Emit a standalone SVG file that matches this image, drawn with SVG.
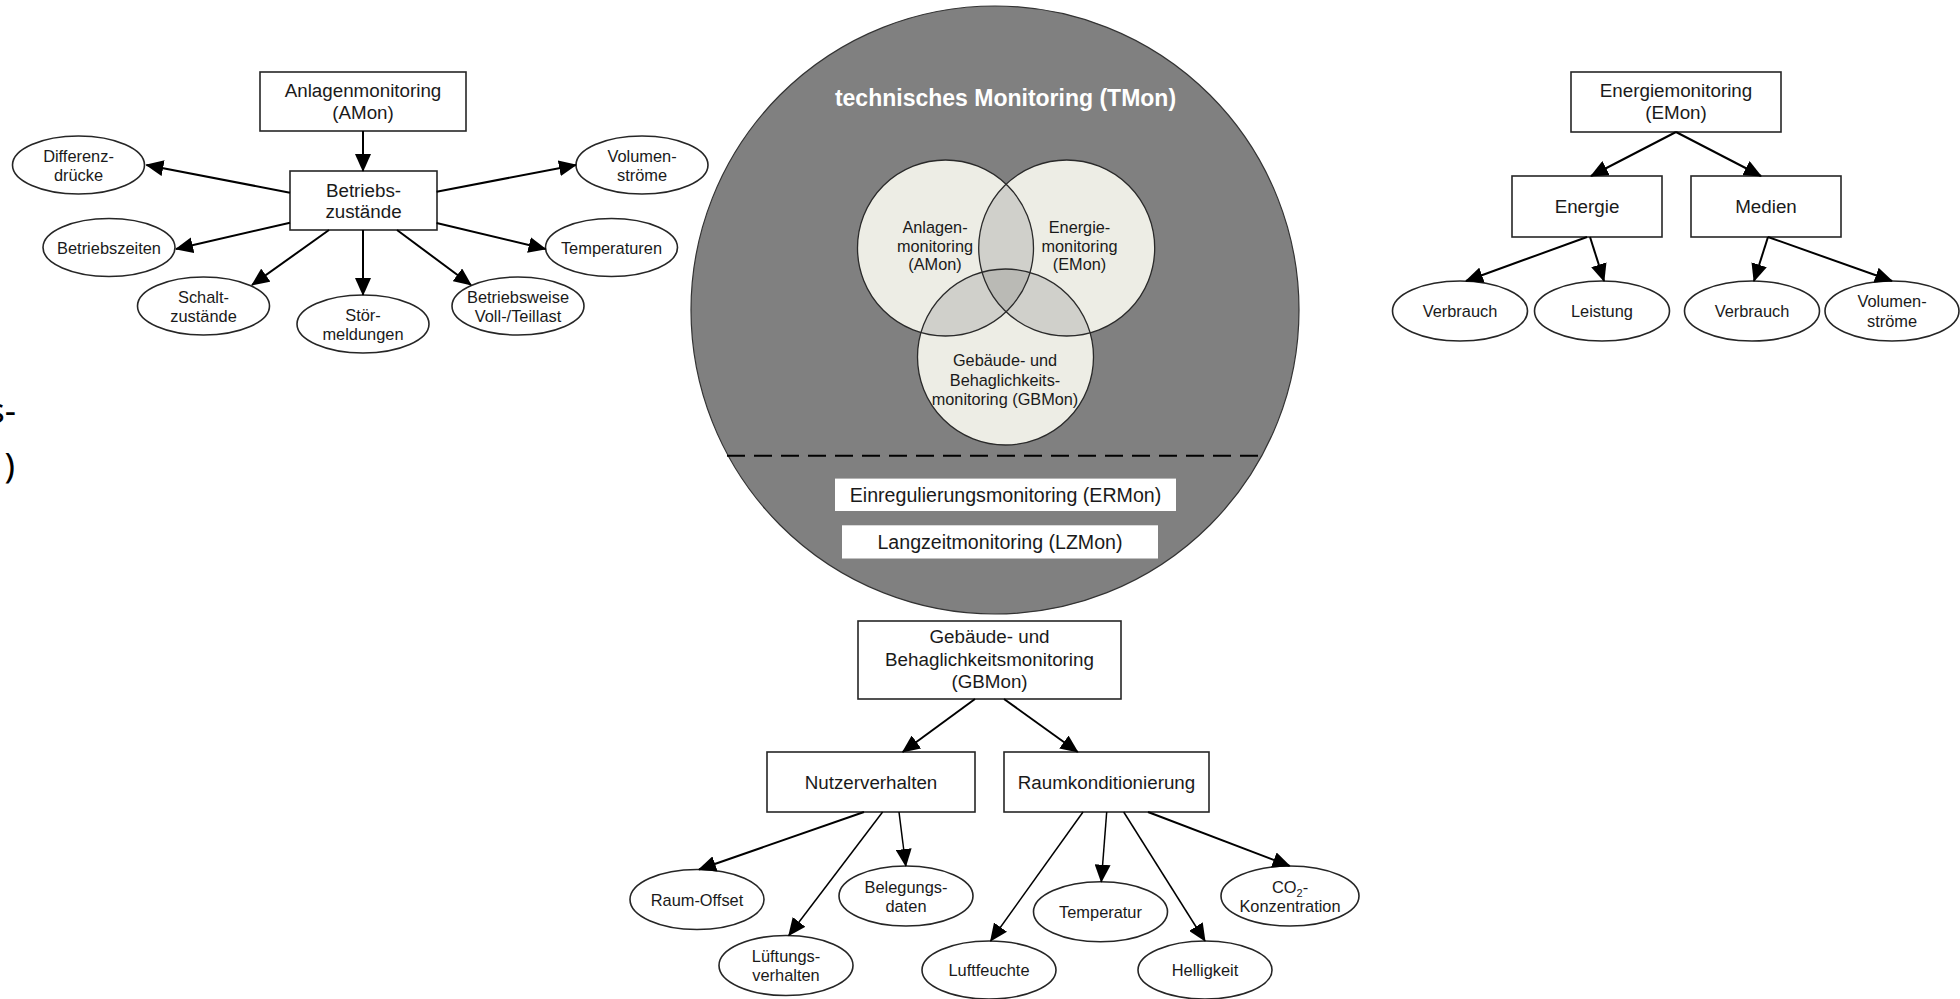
<svg xmlns="http://www.w3.org/2000/svg" width="1960" height="999" viewBox="0 0 1960 999">
<style>
text{font-family:"Liberation Sans",Arial,sans-serif;fill:#1a1a1a;text-anchor:middle}
.bx{fill:#fff;stroke:#262626;stroke-width:1.6}
.el{fill:#fff;stroke:#262626;stroke-width:1.6}
.bt{font-size:18.8px}
.et{font-size:16.4px}
.vt{font-size:16.3px}
.e{stroke:#000;stroke-width:2;fill:none;marker-end:url(#arr)}
.thin{stroke-width:1.5}
.venn{stroke:#2a2a2a;stroke-width:1.3;fill:none}
</style>
<defs>
<marker id="arr" viewBox="0 0 18 16" markerWidth="18" markerHeight="16" refX="17" refY="8" orient="auto" markerUnits="userSpaceOnUse">
<path d="M0,0 L18,8 L0,16 z" fill="#000"/>
</marker>
<clipPath id="cA"><circle cx="945.5" cy="248" r="88"/></clipPath>
<clipPath id="cE"><circle cx="1066.7" cy="248" r="88"/></clipPath>
<clipPath id="cG"><circle cx="1005.5" cy="357" r="88"/></clipPath>
</defs>
<rect width="1960" height="999" fill="#fff"/>

<!-- cut-off text at left edge -->
<g id="leftEdgeText">
<text x="16" y="423" style="font-family:'Noto Sans','Open Sans',sans-serif;font-size:35px;text-anchor:end;fill:#000">s-</text>
<text x="15" y="478" style="font-family:'Noto Sans','Open Sans',sans-serif;font-size:35px;text-anchor:end;fill:#000">)</text>
</g>

<!-- technisches Monitoring -->
<g id="tmon">
<circle cx="995" cy="310" r="304" fill="#808080" stroke="#333" stroke-width="1.2"/>
<text x="1005.5" y="106" style="font-size:23px;font-weight:bold;fill:#fff">technisches Monitoring (TMon)</text>
</g>
<g id="venn">
<circle cx="945.5" cy="248" r="88" fill="#EDEDE5"/>
<circle cx="1066.7" cy="248" r="88" fill="#EDEDE5"/>
<circle cx="1005.5" cy="357" r="88" fill="#EDEDE5"/>
<g clip-path="url(#cA)"><circle cx="1066.7" cy="248" r="88" fill="#D0D0CB"/><circle cx="1005.5" cy="357" r="88" fill="#D0D0CB"/></g>
<g clip-path="url(#cE)"><circle cx="1005.5" cy="357" r="88" fill="#D0D0CB"/></g>
<g clip-path="url(#cA)"><g clip-path="url(#cE)"><circle cx="1005.5" cy="357" r="88" fill="#BABAB5"/></g></g>
<circle class="venn" cx="945.5" cy="248" r="88"/>
<circle class="venn" cx="1066.7" cy="248" r="88"/>
<circle class="venn" cx="1005.5" cy="357" r="88"/>
</g>
<g id="venn_amon">
<text class="vt" x="935" y="233">Anlagen-</text>
<text class="vt" x="935" y="252">monitoring</text>
<text class="vt" x="935" y="270">(AMon)</text>
</g>
<g id="venn_emon">
<text class="vt" x="1079.5" y="233">Energie-</text>
<text class="vt" x="1079.5" y="252">monitoring</text>
<text class="vt" x="1079.5" y="270">(EMon)</text>
</g>
<g id="venn_gbmon">
<text class="vt" x="1005" y="366">Gebäude- und</text>
<text class="vt" x="1005" y="385.5">Behaglichkeits-</text>
<text class="vt" x="1005" y="405">monitoring (GBMon)</text>
</g>
<line x1="727" y1="455.7" x2="1262" y2="455.7" stroke="#000" stroke-width="2" stroke-dasharray="18 9"/>
<g id="ermon">
<rect x="835" y="478.6" width="341" height="32.4" fill="#fff"/>
<text x="1005.5" y="501.5" style="font-size:19.6px">Einregulierungsmonitoring (ERMon)</text>
</g>
<g id="lzmon">
<rect x="842" y="525.3" width="316" height="33.2" fill="#fff"/>
<text x="1000" y="548.8" style="font-size:19.6px">Langzeitmonitoring (LZMon)</text>
</g>

<!-- Anlagenmonitoring cluster -->
<g id="n_amon"><rect class="bx" x="260" y="72" width="206" height="59"/>
<text class="bt" x="363" y="97">Anlagenmonitoring</text><text class="bt" x="363" y="119">(AMon)</text></g>
<g id="n_betriebszustaende"><rect class="bx" x="290" y="171" width="147" height="59"/>
<text class="bt" x="363.5" y="196.5">Betriebs-</text><text class="bt" x="363.5" y="218">zustände</text></g>
<g id="n_differenz"><ellipse class="el" cx="78.5" cy="165" rx="66" ry="29"/>
<text class="et" x="78.5" y="161.5">Differenz-</text><text class="et" x="78.5" y="180.5">drücke</text></g>
<g id="n_volumen1"><ellipse class="el" cx="642" cy="165" rx="66" ry="29"/>
<text class="et" x="642" y="161.5">Volumen-</text><text class="et" x="642" y="180.5">ströme</text></g>
<g id="n_betriebszeiten"><ellipse class="el" cx="109" cy="247.5" rx="66" ry="29"/>
<text class="et" x="109" y="253.5">Betriebszeiten</text></g>
<g id="n_temperaturen"><ellipse class="el" cx="611.5" cy="247.5" rx="66" ry="29"/>
<text class="et" x="611.5" y="253.5">Temperaturen</text></g>
<g id="n_schalt"><ellipse class="el" cx="203.5" cy="306" rx="66" ry="29"/>
<text class="et" x="203.5" y="302.5">Schalt-</text><text class="et" x="203.5" y="321.5">zustände</text></g>
<g id="n_stoer"><ellipse class="el" cx="363" cy="324" rx="66" ry="29"/>
<text class="et" x="363" y="320.5">Stör-</text><text class="et" x="363" y="339.5">meldungen</text></g>
<g id="n_betriebsweise"><ellipse class="el" cx="518" cy="306" rx="66" ry="29"/>
<text class="et" x="518" y="302.5">Betriebsweise</text><text class="et" x="518" y="321.5">Voll-/Teillast</text></g>

<!-- Energiemonitoring cluster -->
<g id="n_emon"><rect class="bx" x="1571" y="72" width="210" height="60"/>
<text class="bt" x="1676" y="97">Energiemonitoring</text><text class="bt" x="1676" y="119">(EMon)</text></g>
<g id="n_energie"><rect class="bx" x="1512" y="176" width="150" height="61"/>
<text class="bt" x="1587" y="213">Energie</text></g>
<g id="n_medien"><rect class="bx" x="1691" y="176" width="150" height="61"/>
<text class="bt" x="1766" y="213">Medien</text></g>
<g id="n_verbrauch1"><ellipse class="el" cx="1460" cy="311" rx="67.5" ry="30"/>
<text class="et" x="1460" y="317">Verbrauch</text></g>
<g id="n_leistung"><ellipse class="el" cx="1602" cy="311" rx="67.5" ry="30"/>
<text class="et" x="1602" y="317">Leistung</text></g>
<g id="n_verbrauch2"><ellipse class="el" cx="1752" cy="311" rx="67.5" ry="30"/>
<text class="et" x="1752" y="317">Verbrauch</text></g>
<g id="n_volumen2"><ellipse class="el" cx="1892" cy="311" rx="67" ry="30"/>
<text class="et" x="1892" y="307">Volumen-</text><text class="et" x="1892" y="326.5">ströme</text></g>

<!-- GBMon cluster -->
<g id="n_gbmon"><rect class="bx" x="858" y="621" width="263" height="78"/>
<text class="bt" x="989.5" y="643">Gebäude- und</text><text class="bt" x="989.5" y="665.5">Behaglichkeitsmonitoring</text><text class="bt" x="989.5" y="688">(GBMon)</text></g>
<g id="n_nutzer"><rect class="bx" x="767" y="752" width="208" height="60"/>
<text class="bt" x="871" y="789">Nutzerverhalten</text></g>
<g id="n_raumkond"><rect class="bx" x="1004" y="752" width="205" height="60"/>
<text class="bt" x="1106.5" y="789">Raumkonditionierung</text></g>
<g id="n_raumoffset"><ellipse class="el" cx="697" cy="899.5" rx="67" ry="30"/>
<text class="et" x="697" y="905.5">Raum-Offset</text></g>
<g id="n_lueftung"><ellipse class="el" cx="786" cy="965.5" rx="67" ry="30"/>
<text class="et" x="786" y="962">Lüftungs-</text><text class="et" x="786" y="981">verhalten</text></g>
<g id="n_belegung"><ellipse class="el" cx="906" cy="896" rx="67" ry="30"/>
<text class="et" x="906" y="892.5">Belegungs-</text><text class="et" x="906" y="911.5">daten</text></g>
<g id="n_luftfeuchte"><ellipse class="el" cx="989" cy="970" rx="67" ry="29"/>
<text class="et" x="989" y="976">Luftfeuchte</text></g>
<g id="n_temperatur"><ellipse class="el" cx="1100.5" cy="911.7" rx="67" ry="30"/>
<text class="et" x="1100.5" y="917.7">Temperatur</text></g>
<g id="n_helligkeit"><ellipse class="el" cx="1205" cy="970" rx="67" ry="29"/>
<text class="et" x="1205" y="976">Helligkeit</text></g>
<g id="n_co2"><ellipse class="el" cx="1290" cy="896" rx="69" ry="30"/>
<text class="et" x="1290" y="893">CO<tspan style="font-size:11px" dy="4">2</tspan><tspan dy="-4">-</tspan></text><text class="et" x="1290" y="912">Konzentration</text></g>

<g id="connectors">
<line class="e" x1="363" y1="131" x2="363" y2="171"/>
<line class="e" x1="290" y1="192.7" x2="146.4" y2="165"/>
<line class="e" x1="436.6" y1="191.7" x2="576" y2="165"/>
<line class="e" x1="290" y1="222.7" x2="176" y2="249"/>
<line class="e" x1="436.6" y1="223" x2="545.5" y2="249"/>
<line class="e" x1="329" y1="230" x2="252" y2="285"/>
<line class="e" x1="363" y1="230" x2="363" y2="295"/>
<line class="e" x1="397" y1="230" x2="471" y2="285"/>

<line class="e" x1="1676" y1="132" x2="1591" y2="176"/>
<line class="e" x1="1676" y1="132" x2="1761" y2="176"/>
<line class="e" x1="1587" y1="237" x2="1466" y2="281"/>
<line class="e" x1="1590" y1="237" x2="1604" y2="281"/>
<line class="e" x1="1768" y1="237" x2="1754" y2="281"/>
<line class="e" x1="1768" y1="237" x2="1892" y2="281"/>

<line class="e" x1="975" y1="699" x2="902.7" y2="752"/>
<line class="e" x1="1004" y1="699" x2="1077.7" y2="752"/>
<line class="e" x1="864" y1="812" x2="699" y2="869.5"/>
<line class="e thin" x1="882.6" y1="812" x2="788.8" y2="935.5"/>
<line class="e thin" x1="899" y1="812" x2="905.8" y2="866"/>
<line class="e thin" x1="1083" y1="812" x2="990.6" y2="941"/>
<line class="e thin" x1="1106.7" y1="812" x2="1101.3" y2="881.7"/>
<line class="e thin" x1="1123.7" y1="812" x2="1205" y2="941"/>
<line class="e" x1="1148" y1="812" x2="1289.7" y2="866"/>
</g>
</svg>
